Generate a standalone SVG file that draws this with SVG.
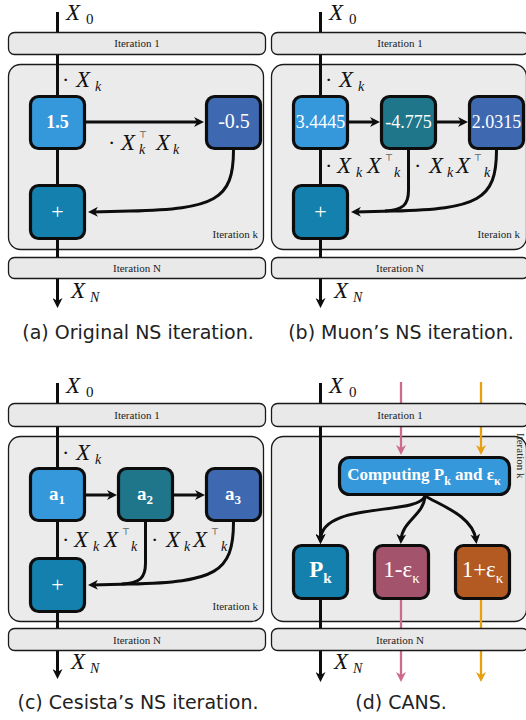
<svg xmlns="http://www.w3.org/2000/svg" width="526" height="720" viewBox="0 0 526 720">
<style>
.box{fill:#ebebeb;stroke:#1a1a1a;stroke-width:1.3}
.bar{fill:#e9e9e9;stroke:#1a1a1a;stroke-width:1.3}
.lbl{font-family:"Liberation Serif","DejaVu Serif",serif;font-size:11px;fill:#222}
.cap{font-family:"DejaVu Sans","Liberation Sans",sans-serif;font-size:19px;fill:#222}
.node{stroke:#0d0d0d;stroke-width:3.2}
.nt{font-family:"Liberation Serif","DejaVu Serif",serif;fill:#fff}
.ln{fill:none;stroke:#0d0d0d;stroke-width:3}
.lk{fill:none;stroke:#cc6b8e;stroke-width:2.3}
.lo{fill:none;stroke:#e6a010;stroke-width:2.3}
.m{fill:#111}
.dt{font-family:"Liberation Serif","DejaVu Serif",serif;font-size:22px}
.mi{font-family:"Liberation Serif","DejaVu Serif",serif;font-style:italic;font-size:23px}
.sb{font-family:"Liberation Serif","DejaVu Serif",serif;font-style:italic;font-size:14px}
.sr{font-family:"Liberation Serif","DejaVu Serif",serif;font-size:15px}
.tp{font-family:"DejaVu Sans",sans-serif;font-size:9px}
.c1{fill:#3598db}.c2{fill:#1f768a}.c3{fill:#3e69b1}.cp{fill:#1380ad}.cr{fill:#a4536c}.co{fill:#b25a22}
</style>
<defs>
<marker id="ah" viewBox="0 0 10 10" refX="6" refY="5" markerWidth="10" markerHeight="10" markerUnits="userSpaceOnUse" orient="auto"><path d="M0,0 L10,5 L0,10 L3,5 Z" fill="#0d0d0d"/></marker>
<marker id="ahk" viewBox="0 0 10 10" refX="6" refY="5" markerWidth="10" markerHeight="10" markerUnits="userSpaceOnUse" orient="auto"><path d="M0,0 L10,5 L0,10 L3,5 Z" fill="#cc6b8e"/></marker>
<marker id="aho" viewBox="0 0 10 10" refX="6" refY="5" markerWidth="10" markerHeight="10" markerUnits="userSpaceOnUse" orient="auto"><path d="M0,0 L10,5 L0,10 L3,5 Z" fill="#e6a010"/></marker>
</defs>
<rect width="526" height="720" fill="#fff"/>

<!-- Panel A -->
<g id="panel-a">
<g id="a-iterk"><rect class="box" x="8.5" y="64.5" width="255" height="185" rx="12"/><text class="lbl" x="258" y="238" text-anchor="end">Iteration k</text></g>
<g id="a-connectors">
<path class="ln" d="M57.5,12 V304" marker-end="url(#ah)"/>
<path class="ln" d="M86,122 H200" marker-end="url(#ah)"/>
<path class="ln" d="M233.5,150 C233.5,200 215,209 130,211 L92,212" marker-end="url(#ah)"/>
</g>
<g id="a-n1"><rect class="node c1" x="30.5" y="96.5" width="54" height="52" rx="8"/><text class="nt" x="57.5" y="128" font-size="18" font-weight="bold" text-anchor="middle">1.5</text></g>
<g id="a-n2"><rect class="node c3" x="206.5" y="96.5" width="54" height="52" rx="8"/><text class="nt" x="234" y="128" font-size="20" text-anchor="middle">-0.5</text></g>
<g id="a-plus"><rect class="node cp" x="30.5" y="185.5" width="54" height="53" rx="8"/><text class="nt" x="57.5" y="219" font-size="22" text-anchor="middle">+</text></g>
<g id="a-iter1"><rect class="bar" x="8.5" y="32.5" width="257" height="22" rx="6"/><text class="lbl" x="137" y="47" text-anchor="middle">Iteration 1</text></g>
<g id="a-iterN"><rect class="bar" x="8.5" y="257.5" width="257" height="21" rx="6"/><text class="lbl" x="137" y="272" text-anchor="middle">Iteration N</text></g>
<text class="m"><tspan class="mi" x="66" y="20">X</tspan><tspan class="sr" x="86" y="24">0</tspan></text>
<text class="m"><tspan class="dt" x="62" y="87">·</tspan><tspan class="mi" x="76" y="87">X</tspan><tspan class="sb" x="95" y="91">k</tspan></text>
<text class="m"><tspan class="dt" x="108" y="150">·</tspan><tspan class="mi" x="121" y="150">X</tspan><tspan class="tp" x="139" y="138">⊤</tspan><tspan class="sb" x="139" y="154">k</tspan><tspan class="mi" x="156" y="150">X</tspan><tspan class="sb" x="173" y="154">k</tspan></text>
<text class="m"><tspan class="mi" x="71" y="298">X</tspan><tspan class="sb" x="90" y="302">N</tspan></text>
<text class="cap" x="138" y="339" text-anchor="middle">(a) Original NS iteration.</text>
</g>

<!-- Panel B -->
<g id="panel-b" transform="translate(263,0)">
<g id="b-iterk"><rect class="box" x="8.5" y="64.5" width="255" height="185" rx="12"/><text class="lbl" x="257" y="238" text-anchor="end">Iteraion k</text></g>
<g id="b-connectors">
<path class="ln" d="M57.5,12 V304" marker-end="url(#ah)"/>
<path class="ln" d="M85,122 H113" marker-end="url(#ah)"/>
<path class="ln" d="M174,122 H201" marker-end="url(#ah)"/>
<path class="ln" d="M145.5,150 V190 C145.5,205 140,210 122,211"/>
<path class="ln" d="M233.5,150 C233.5,200 215,209 130,211 L92,212" marker-end="url(#ah)"/>
</g>
<g id="b-n1"><rect class="node c1" x="30.5" y="96.5" width="54" height="52" rx="8"/><text class="nt" x="57.5" y="128" font-size="18" text-anchor="middle">3.4445</text></g>
<g id="b-n2"><rect class="node c2" x="118.5" y="96.5" width="54" height="52" rx="8"/><text class="nt" x="145.5" y="128" font-size="18" text-anchor="middle">-4.775</text></g>
<g id="b-n3"><rect class="node c3" x="206.5" y="96.5" width="54" height="52" rx="8"/><text class="nt" x="233.5" y="128" font-size="18" text-anchor="middle">2.0315</text></g>
<g id="b-plus"><rect class="node cp" x="30.5" y="185.5" width="54" height="53" rx="8"/><text class="nt" x="57.5" y="219" font-size="22" text-anchor="middle">+</text></g>
<g id="b-iter1"><rect class="bar" x="8.5" y="32.5" width="257" height="22" rx="6"/><text class="lbl" x="137" y="47" text-anchor="middle">Iteration 1</text></g>
<g id="b-iterN"><rect class="bar" x="8.5" y="257.5" width="257" height="21" rx="6"/><text class="lbl" x="137" y="272" text-anchor="middle">Iteration N</text></g>
<text class="m"><tspan class="mi" x="66" y="20">X</tspan><tspan class="sr" x="86" y="24">0</tspan></text>
<text class="m"><tspan class="dt" x="62" y="87">·</tspan><tspan class="mi" x="76" y="87">X</tspan><tspan class="sb" x="95" y="91">k</tspan></text>
<text class="m"><tspan class="dt" x="62" y="173">·</tspan><tspan class="mi" x="74" y="173">X</tspan><tspan class="sb" x="93" y="177">k</tspan><tspan class="mi" x="104" y="173">X</tspan><tspan class="tp" x="122" y="161">⊤</tspan><tspan class="sb" x="131" y="177">k</tspan></text>
<text class="m"><tspan class="dt" x="151" y="173">·</tspan><tspan class="mi" x="166" y="173">X</tspan><tspan class="sb" x="184" y="177">k</tspan><tspan class="mi" x="193" y="173">X</tspan><tspan class="tp" x="211" y="161">⊤</tspan><tspan class="sb" x="221" y="177">k</tspan></text>
<text class="m"><tspan class="mi" x="71" y="298">X</tspan><tspan class="sb" x="90" y="302">N</tspan></text>
<text class="cap" x="138" y="339" text-anchor="middle">(b) Muon’s NS iteration.</text>
</g>

<!-- Panel C -->
<g id="panel-c" transform="translate(0,371)">
<g id="c-iterk"><rect class="box" x="8.5" y="65.5" width="255" height="185" rx="12"/><text class="lbl" x="258" y="239" text-anchor="end">Iteration k</text></g>
<g id="c-connectors">
<path class="ln" d="M57.5,12 V304" marker-end="url(#ah)"/>
<path class="ln" d="M85,124 H113" marker-end="url(#ah)"/>
<path class="ln" d="M174,124 H201" marker-end="url(#ah)"/>
<path class="ln" d="M145.5,151 V192 C145.5,207 140,212 122,213"/>
<path class="ln" d="M233.5,151 C233.5,202 215,211 130,213 L92,214" marker-end="url(#ah)"/>
</g>
<g id="c-n1"><rect class="node c1" x="30.5" y="97.5" width="54" height="52" rx="8"/><text class="nt" x="57" y="129" font-size="19" font-weight="bold" text-anchor="middle">a<tspan font-size="13" dy="4">1</tspan></text></g>
<g id="c-n2"><rect class="node c2" x="118.5" y="97.5" width="54" height="52" rx="8"/><text class="nt" x="145" y="129" font-size="19" font-weight="bold" text-anchor="middle">a<tspan font-size="13" dy="4">2</tspan></text></g>
<g id="c-n3"><rect class="node c3" x="206.5" y="97.5" width="54" height="52" rx="8"/><text class="nt" x="233" y="129" font-size="19" font-weight="bold" text-anchor="middle">a<tspan font-size="13" dy="4">3</tspan></text></g>
<g id="c-plus"><rect class="node cp" x="30.5" y="187.5" width="54" height="53" rx="8"/><text class="nt" x="57.5" y="221" font-size="22" text-anchor="middle">+</text></g>
<g id="c-iter1"><rect class="bar" x="8.5" y="32.5" width="257" height="23" rx="6"/><text class="lbl" x="137" y="48" text-anchor="middle">Iteration 1</text></g>
<g id="c-iterN"><rect class="bar" x="8.5" y="257.5" width="257" height="22" rx="6"/><text class="lbl" x="137" y="273" text-anchor="middle">Iteration N</text></g>
<text class="m"><tspan class="mi" x="66" y="22">X</tspan><tspan class="sr" x="86" y="26">0</tspan></text>
<text class="m"><tspan class="dt" x="62" y="89">·</tspan><tspan class="mi" x="76" y="89">X</tspan><tspan class="sb" x="95" y="93">k</tspan></text>
<text class="m"><tspan class="dt" x="62" y="176">·</tspan><tspan class="mi" x="74" y="176">X</tspan><tspan class="sb" x="93" y="180">k</tspan><tspan class="mi" x="104" y="176">X</tspan><tspan class="tp" x="122" y="164">⊤</tspan><tspan class="sb" x="131" y="180">k</tspan></text>
<text class="m"><tspan class="dt" x="151" y="176">·</tspan><tspan class="mi" x="166" y="176">X</tspan><tspan class="sb" x="184" y="180">k</tspan><tspan class="mi" x="193" y="176">X</tspan><tspan class="tp" x="211" y="164">⊤</tspan><tspan class="sb" x="221" y="180">k</tspan></text>
<text class="m"><tspan class="mi" x="71" y="298">X</tspan><tspan class="sb" x="90" y="302">N</tspan></text>
<text class="cap" x="138" y="338" text-anchor="middle">(c) Cesista’s NS iteration.</text>
</g>

<!-- Panel D -->
<g id="panel-d" transform="translate(263,371)">
<g id="d-iterk"><rect class="box" x="8.5" y="65.5" width="255" height="185" rx="12"/><text class="lbl" transform="translate(253.5,62) rotate(90)">Iteration k</text></g>
<g id="d-connectors">
<path class="ln" d="M57.5,12 V169" marker-end="url(#ah)"/>
<path class="ln" d="M57.5,229 V307" marker-end="url(#ah)"/>
<path class="lk" d="M138,11 V80" marker-end="url(#ahk)"/>
<path class="lo" d="M218,11 V80" marker-end="url(#aho)"/>
<path class="lk" d="M138,229 V307" marker-end="url(#ahk)"/>
<path class="lo" d="M218,229 V307" marker-end="url(#aho)"/>
<path class="ln" d="M162,125 C155,145 58,130 57.5,169" marker-end="url(#ah)"/>
<path class="ln" d="M162,125 C161,144 139,150 138,169" marker-end="url(#ah)"/>
<path class="ln" d="M162,125 C177,134 210,145 213,169" marker-end="url(#ah)"/>
</g>
<g id="d-compute"><rect class="node c1" x="76.5" y="86.5" width="170" height="37" rx="10"/><text class="nt" x="161" y="109" font-size="17" font-weight="bold" text-anchor="middle">Computing P<tspan font-size="12" dy="5">k</tspan><tspan dy="-5"> and ε</tspan><tspan font-size="12" dy="5">κ</tspan></text></g>
<g id="d-pk"><rect class="node cp" x="30.5" y="174.5" width="54" height="53" rx="8"/><text class="nt" x="57.5" y="206" font-size="23" font-weight="bold" text-anchor="middle">P<tspan font-size="15" dy="6">k</tspan></text></g>
<g id="d-1m"><rect class="node cr" x="111.5" y="174.5" width="54" height="53" rx="8"/><text class="nt" x="138.5" y="206" font-size="23" text-anchor="middle">1-ε<tspan font-size="15" dy="6">κ</tspan></text></g>
<g id="d-1p"><rect class="node co" x="192.5" y="174.5" width="54" height="53" rx="8"/><text class="nt" x="219.5" y="206" font-size="23" text-anchor="middle">1+ε<tspan font-size="15" dy="6">κ</tspan></text></g>
<g id="d-iter1"><rect class="bar" x="8.5" y="32.5" width="257" height="23" rx="6"/><text class="lbl" x="137" y="48" text-anchor="middle">Iteration 1</text></g>
<g id="d-iterN"><rect class="bar" x="8.5" y="257.5" width="257" height="22" rx="6"/><text class="lbl" x="137" y="273" text-anchor="middle">Iteration N</text></g>
<text class="m"><tspan class="mi" x="66" y="22">X</tspan><tspan class="sr" x="86" y="26">0</tspan></text>
<text class="m"><tspan class="mi" x="71" y="298">X</tspan><tspan class="sb" x="90" y="302">N</tspan></text>
<text class="cap" x="138" y="338" text-anchor="middle">(d) CANS.</text>
</g>
</svg>
